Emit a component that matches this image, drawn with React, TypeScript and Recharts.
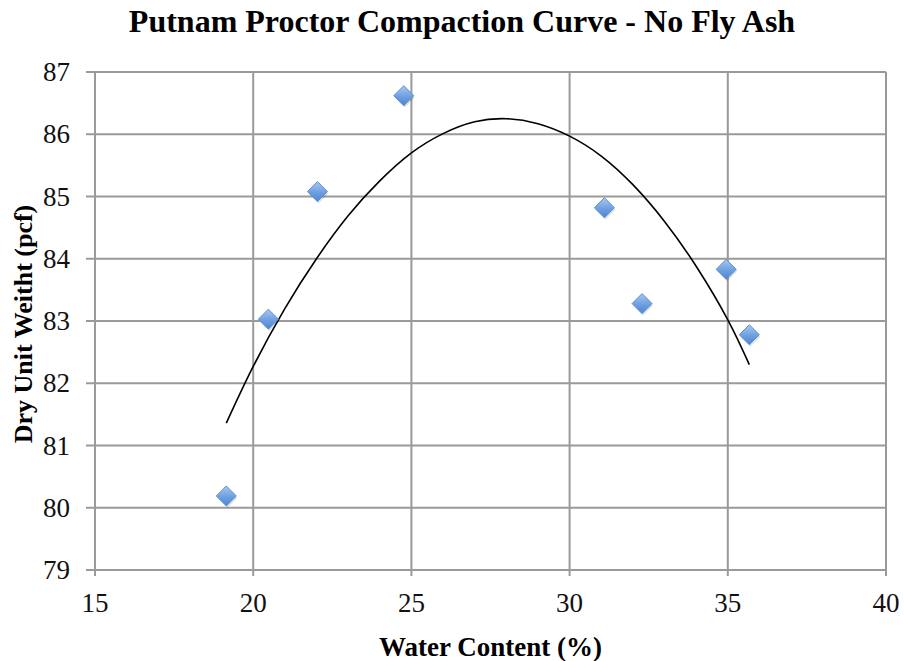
import React from "react";
import {
    ComposedChart,
    Scatter,
    Line,
    XAxis,
    YAxis,
    CartesianGrid,
    Label,
} from "recharts";

// measured proctor points: water content (%) vs dry unit weight (pcf)
const waterContent = [19.15, 20.48, 22.03, 24.76, 31.1, 32.29, 34.95, 35.68];
const dryUnitWeight = [80.19, 83.03, 85.08, 86.62, 84.82, 83.28, 83.83, 82.78];

// second-order trendline, sampled along its length
const trendX = [19.15, 20, 21, 22, 23, 24, 25, 26, 27, 28, 29, 30, 31, 32, 33, 34, 35, 35.68];
const trendY = [81.36, 82.27, 83.2, 84.0, 84.69, 85.25, 85.7, 86.01, 86.2, 86.25, 86.17, 85.97, 85.65, 85.19, 84.6, 83.88, 83.02, 82.3];

const xTicks = [15, 20, 25, 30, 35, 40];
const yTicks = [79, 80, 81, 82, 83, 84, 85, 86, 87];

const points = waterContent.map((x, i) => ({ x, y: dryUnitWeight[i] }));
const trend = trendX.map((x, i) => ({ x, y: trendY[i] }));

const FONT = "Liberation Serif, Times New Roman, serif";
const GRID = "#9a9a9a";

function Diamond(props: any) {
    const { cx, cy } = props;
    if (cx == null || cy == null) return null;
    const r = 10;
    return (
        <g>
            <path
                d={`M${cx + 1},${cy - r + 2} L${cx + r + 1},${cy + 2} L${cx + 1},${cy + r + 2} L${cx - r + 1},${cy + 2} Z`}
                fill="rgba(0,0,0,0.12)"
            />
            <path
                d={`M${cx},${cy - r} L${cx + r},${cy} L${cx},${cy + r} L${cx - r},${cy} Z`}
                fill="url(#diamondFill)"
                stroke="#5b8fd0"
                strokeWidth={1}
            />
        </g>
    );
}

function XTick({ x, y, payload }: any) {
    return (
        <text x={x} y={y + 26} textAnchor="middle" fontFamily={FONT} fontSize={27} fill="#111">
            {payload.value}
        </text>
    );
}

function YTick({ x, y, payload }: any) {
    return (
        <text x={x} y={y + 9} textAnchor="end" fontFamily={FONT} fontSize={27} fill="#111">
            {payload.value}
        </text>
    );
}

export default function App() {
    return (
        <div style={{ position: "absolute", left: 0, top: 0, width: 904, height: 661, background: "#fff", fontFamily: FONT }}>
            <div
                style={{
                    position: "absolute",
                    left: 0,
                    top: 3,
                    width: 924,
                    textAlign: "center",
                    fontFamily: FONT,
                    fontWeight: "bold",
                    fontSize: 32,
                    color: "#000",
                }}
            >
                Putnam Proctor Compaction Curve - No Fly Ash
            </div>
            <ComposedChart
                width={904}
                height={661}
                margin={{ top: 72, right: 18, bottom: 0, left: 0 }}
                style={{ fontFamily: FONT }}
            >
                <defs>
                    <linearGradient id="diamondFill" x1="0" y1="0" x2="0" y2="1">
                        <stop offset="0%" stopColor="#a9c8f0" />
                        <stop offset="55%" stopColor="#6d9fe0" />
                        <stop offset="100%" stopColor="#4f86d2" />
                    </linearGradient>
                </defs>
                <CartesianGrid stroke={GRID} strokeWidth={2} />
                <XAxis
                    type="number"
                    dataKey="x"
                    domain={[15, 40]}
                    ticks={xTicks}
                    allowDataOverflow
                    height={91}
                    stroke={GRID}
                    strokeWidth={2}
                    tickSize={6}
                    tickMargin={10}
                    tick={<XTick />}
                >
                    <Label
                        content={({ viewBox }: any) => (
                            <text
                                x={viewBox.x + viewBox.width / 2}
                                y={viewBox.y + 86}
                                textAnchor="middle"
                                fontFamily={FONT}
                                fontWeight="bold"
                                fontSize={27}
                                fill="#000"
                            >
                                Water Content (%)
                            </text>
                        )}
                    />
                </XAxis>
                <YAxis
                    type="number"
                    dataKey="y"
                    domain={[79, 87]}
                    ticks={yTicks}
                    allowDataOverflow
                    width={95}
                    stroke={GRID}
                    strokeWidth={2}
                    tickSize={9}
                    tickMargin={16}
                    tick={<YTick />}
                >
                    <Label
                        content={({ viewBox }: any) => {
                            const cx = 23;
                            const cy = viewBox.y + viewBox.height / 2 + 3;
                            return (
                                <text
                                    x={cx}
                                    y={cy}
                                    transform={`rotate(-90 ${cx} ${cy})`}
                                    textAnchor="middle"
                                    dominantBaseline="central"
                                    fontFamily={FONT}
                                    fontWeight="bold"
                                    fontSize={26}
                                    fill="#000"
                                >
                                    Dry Unit Weitht (pcf)
                                </text>
                            );
                        }}
                    />
                </YAxis>
                <Line
                    data={trend}
                    dataKey="y"
                    type="natural"
                    stroke="#000"
                    strokeWidth={1.6}
                    dot={false}
                    activeDot={false}
                    isAnimationActive={false}
                />
                <Scatter
                    data={points}
                    dataKey="y"
                    shape={<Diamond />}
                    isAnimationActive={false}
                />
            </ComposedChart>
        </div>
    );
}
